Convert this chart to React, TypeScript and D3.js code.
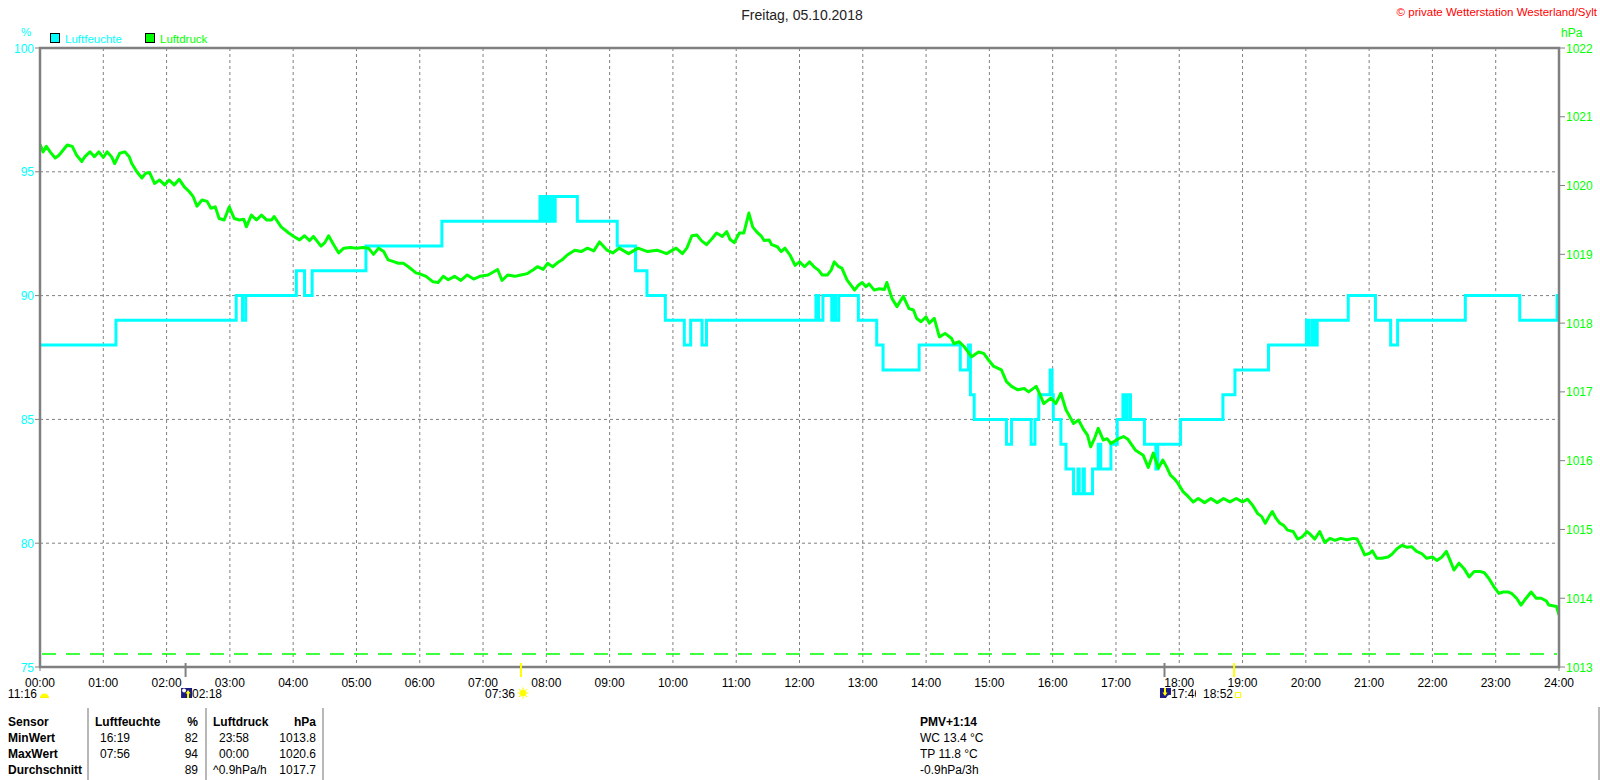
import React from "react";
import * as d3 from "d3";

// ---------- data ----------
const humTimes = [0, 1.2, 3.1, 3.2, 3.25, 4.05, 4.18, 4.3, 5.15, 6.35, 7.9, 7.94, 7.98, 8.02, 8.06, 8.1, 8.14, 8.49, 9.12, 9.41, 9.59, 9.88, 10.18, 10.28, 10.46, 10.53, 12.26, 12.3, 12.37, 12.51, 12.55, 12.57, 12.62, 12.93, 13.22, 13.32, 13.89, 14.54, 14.67, 14.7, 14.76, 15.27, 15.35, 15.66, 15.72, 15.78, 15.96, 15.99, 16.01, 16.13, 16.21, 16.33, 16.4, 16.42, 16.48, 16.5, 16.63, 16.72, 16.76, 16.92, 17.02, 17.11, 17.14, 17.18, 17.23, 17.45, 17.63, 17.66, 18.02, 18.69, 18.88, 19.41, 20.01, 20.05, 20.1, 20.14, 20.18, 20.67, 21.1, 21.34, 21.45, 22.52, 23.38, 23.97, 24];
const humValues = [88, 89, 90, 89, 90, 91, 90, 91, 92, 93, 94, 93, 94, 93, 94, 93, 94, 93, 92, 91, 90, 89, 88, 89, 88, 89, 90, 89, 90, 89, 90, 89, 90, 89, 88, 87, 88, 87, 88, 86, 85, 84, 85, 84, 85, 86, 87, 86, 85, 84, 83, 82, 83, 82, 83, 82, 83, 84, 83, 84, 85, 86, 85, 86, 85, 84, 83, 84, 85, 86, 87, 88, 89, 88, 89, 88, 89, 90, 89, 88, 89, 90, 89, 90, 90];

const pressure: [number, number][] = [
  [0.00,1020.60],[0.05,1020.49],[0.10,1020.57],[0.16,1020.49],[0.24,1020.40],[0.30,1020.44],[0.43,1020.59],[0.51,1020.57],[0.58,1020.44],[0.66,1020.35],[0.71,1020.42],[0.79,1020.49],[0.86,1020.42],[0.93,1020.49],[1.00,1020.41],[1.06,1020.49],[1.13,1020.42],[1.18,1020.32],[1.26,1020.47],[1.34,1020.49],[1.41,1020.42],[1.45,1020.32],[1.53,1020.20],[1.61,1020.11],[1.67,1020.18],[1.73,1020.19],[1.81,1020.03],[1.89,1020.08],[1.97,1020.01],[2.04,1020.08],[2.12,1020.01],[2.20,1020.09],[2.28,1019.98],[2.36,1019.91],[2.42,1019.84],[2.48,1019.70],[2.56,1019.79],[2.64,1019.77],[2.70,1019.67],[2.77,1019.69],[2.83,1019.52],[2.91,1019.50],[2.99,1019.69],[3.07,1019.52],[3.15,1019.50],[3.22,1019.51],[3.26,1019.40],[3.34,1019.57],[3.42,1019.50],[3.50,1019.57],[3.58,1019.50],[3.66,1019.50],[3.70,1019.55],[3.81,1019.40],[3.93,1019.31],[4.01,1019.26],[4.10,1019.21],[4.18,1019.27],[4.26,1019.20],[4.32,1019.26],[4.44,1019.12],[4.50,1019.17],[4.56,1019.27],[4.64,1019.14],[4.72,1019.02],[4.80,1019.09],[4.90,1019.10],[5.00,1019.09],[5.10,1019.10],[5.19,1019.09],[5.27,1019.00],[5.35,1019.09],[5.43,1019.04],[5.50,1018.92],[5.60,1018.89],[5.66,1018.87],[5.74,1018.87],[5.82,1018.82],[5.94,1018.73],[6.02,1018.71],[6.10,1018.68],[6.21,1018.60],[6.29,1018.59],[6.37,1018.68],[6.45,1018.63],[6.55,1018.68],[6.65,1018.62],[6.75,1018.70],[6.85,1018.64],[6.95,1018.68],[7.08,1018.70],[7.23,1018.78],[7.30,1018.62],[7.39,1018.70],[7.50,1018.68],[7.60,1018.70],[7.70,1018.72],[7.80,1018.78],[7.86,1018.82],[7.95,1018.78],[8.02,1018.87],[8.10,1018.82],[8.18,1018.88],[8.25,1018.92],[8.33,1018.99],[8.45,1019.06],[8.55,1019.04],[8.65,1019.09],[8.75,1019.05],[8.84,1019.18],[8.96,1019.06],[9.05,1019.02],[9.15,1019.09],[9.30,1019.01],[9.45,1019.09],[9.60,1019.04],[9.75,1019.06],[9.90,1019.01],[10.05,1019.09],[10.15,1019.01],[10.22,1019.09],[10.30,1019.27],[10.38,1019.28],[10.45,1019.20],[10.53,1019.14],[10.62,1019.23],[10.69,1019.31],[10.78,1019.26],[10.85,1019.33],[10.90,1019.22],[10.97,1019.17],[11.05,1019.31],[11.12,1019.31],[11.20,1019.60],[11.26,1019.40],[11.32,1019.33],[11.40,1019.26],[11.44,1019.20],[11.52,1019.21],[11.56,1019.14],[11.65,1019.11],[11.71,1019.04],
  [11.77,1019.09],[11.85,1018.99],[11.93,1018.84],[12.00,1018.89],[12.08,1018.82],[12.16,1018.89],[12.24,1018.81],[12.30,1018.77],[12.36,1018.70],[12.44,1018.70],[12.50,1018.77],[12.55,1018.89],[12.62,1018.82],[12.67,1018.80],[12.75,1018.63],[12.83,1018.53],[12.87,1018.48],[12.93,1018.55],[12.99,1018.59],[13.05,1018.53],[13.10,1018.57],[13.18,1018.48],[13.26,1018.50],[13.34,1018.49],[13.38,1018.59],[13.46,1018.36],[13.54,1018.24],[13.64,1018.39],[13.73,1018.21],[13.80,1018.19],[13.85,1018.07],[13.92,1018.02],[14.00,1018.09],[14.05,1018.00],[14.13,1018.07],[14.21,1017.80],[14.30,1017.85],[14.40,1017.78],[14.44,1017.70],[14.52,1017.73],[14.60,1017.66],[14.72,1017.51],[14.83,1017.58],[14.91,1017.56],[14.99,1017.46],[15.07,1017.37],[15.19,1017.32],[15.27,1017.15],[15.35,1017.08],[15.45,1017.03],[15.55,1017.05],[15.62,1017.00],[15.74,1017.08],[15.78,1017.00],[15.86,1016.83],[15.97,1016.91],[16.05,1016.83],[16.13,1016.98],[16.21,1016.74],[16.33,1016.54],[16.41,1016.59],[16.49,1016.45],[16.55,1016.37],[16.60,1016.20],[16.66,1016.32],[16.72,1016.47],[16.80,1016.30],[16.86,1016.32],[16.92,1016.25],[17.04,1016.32],[17.12,1016.35],[17.19,1016.31],[17.25,1016.23],[17.31,1016.15],[17.43,1016.08],[17.51,1015.90],[17.59,1016.11],[17.67,1015.89],[17.74,1016.01],[17.80,1015.91],[17.86,1015.79],[17.92,1015.74],[17.98,1015.67],[18.06,1015.55],[18.14,1015.48],[18.22,1015.40],[18.30,1015.45],[18.40,1015.39],[18.50,1015.45],[18.60,1015.39],[18.70,1015.45],[18.80,1015.40],[18.90,1015.45],[19.00,1015.40],[19.08,1015.44],[19.16,1015.35],[19.24,1015.23],[19.30,1015.19],[19.36,1015.09],[19.42,1015.19],[19.47,1015.26],[19.53,1015.16],[19.59,1015.09],[19.65,1015.06],[19.71,1014.99],[19.80,1014.97],[19.87,1014.86],[19.94,1014.89],[20.02,1014.97],[20.08,1014.92],[20.14,1014.86],[20.22,1014.97],[20.30,1014.81],[20.38,1014.87],[20.46,1014.84],[20.55,1014.87],[20.65,1014.85],[20.75,1014.87],[20.81,1014.86],[20.87,1014.75],[20.93,1014.63],[21.00,1014.65],[21.05,1014.69],[21.12,1014.58],[21.20,1014.58],[21.30,1014.60],[21.36,1014.64],[21.44,1014.72],[21.52,1014.77],[21.60,1014.74],[21.67,1014.75],[21.75,1014.68],[21.83,1014.65],[21.91,1014.58],[22.00,1014.60],[22.07,1014.55],[22.15,1014.60],[22.22,1014.68],[22.28,1014.55],[22.34,1014.41],[22.42,1014.51],[22.50,1014.43],[22.58,1014.31],[22.66,1014.39],[22.75,1014.39],[22.82,1014.37],[22.89,1014.29],[22.97,1014.17],[23.05,1014.07],[23.12,1014.09],[23.20,1014.09],[23.25,1014.07],[23.33,1014.00],[23.40,1013.90],[23.48,1014.00],[23.56,1014.09],[23.64,1014.00],[23.72,1014.00],[23.80,1013.96],[23.84,1013.90],[23.90,1013.89],[23.96,1013.88],[24.00,1013.76]
];

const humTicks = [75, 80, 85, 90, 95, 100];
const humGrid = [80, 85, 90, 95];
const pressTicks = [1013, 1014, 1015, 1016, 1017, 1018, 1019, 1020, 1021, 1022];
const hourTicks = d3.range(0, 25);
const pressThreshold = 1013.19;

const title = "Freitag, 05.10.2018";
const copyright = "© private Wetterstation Westerland/Sylt";
const seriesNames = ["Luftfeuchte", "Luftdruck"];
const seriesColors = ["#00ffff", "#00ff00"];

// events: moonrise, sunrise, moonset, sunset (hours)
const moonrise = 2 + 18 / 60;
const sunrise = 7 + 36 / 60;
const moonset = 17 + 46 / 60;
const sunset = 18 + 52 / 60;

const tableHeader = ["Sensor", "Luftfeuchte", "%", "Luftdruck", "hPa"];
const tableRowNames = ["MinWert", "MaxWert", "Durchschnitt"];
const humTimesCol = ["16:19", "07:56", ""];
const humValCol = ["82", "94", "89"];
const pressTimesCol = ["23:58", "00:00", "^0.9hPa/h"];
const pressValCol = ["1013.8", "1020.6", "1017.7"];
const pmvLines = ["PMV+1:14", "WC 13.4 °C", "TP 11.8 °C", "-0.9hPa/3h"];

// ---------- layout ----------
const W = 1600, H = 780;
const L = 40, R = 1559, T = 48, B = 667;
const FONT = "'Liberation Sans', Arial, sans-serif";

export default function App() {
  const x = d3.scaleLinear().domain([0, 24]).range([L, R]);
  const yH = d3.scaleLinear().domain([75, 100]).range([B, T]);
  const yP = d3.scaleLinear().domain([1013, 1022]).range([B, T]);

  const humLine = d3
    .line<number>()
    .x((_, i) => x(humTimes[i]))
    .y((d) => yH(d))
    .curve(d3.curveStepAfter)(humValues) as string;

  const pLine = d3
    .line<[number, number]>()
    .x((d) => x(d[0]))
    .y((d) => yP(d[1]))(pressure) as string;

  const fmt = (h: number) => (h < 10 ? "0" + h : "" + h) + ":00";
  const rowY = [726, 742, 758, 774];

  return (
    <svg
      width={W}
      height={H}
      style={{ position: "absolute", left: 0, top: 0, background: "#fff" }}
      fontFamily={FONT}
    >
      <defs>
        <clipPath id="clip1746">
          <rect x={1100} y={680} width={96} height={30} />
        </clipPath>
        <clipPath id="plotClip">
          <rect x={L} y={T - 2} width={R - L} height={B - T + 2} />
        </clipPath>
      </defs>
      <rect x={0} y={0} width={W} height={H} fill="#fff" />

      {/* title */}
      <text x={802} y={20} fontSize={14} textAnchor="middle" fill="#222">{title}</text>
      <text x={1597} y={16} fontSize={11.5} textAnchor="end" fill="#ff0000">{copyright}</text>

      {/* legend */}
      {seriesNames.map((n, i) => (
        <g key={n} transform={`translate(${i === 0 ? 50 : 145},33)`}>
          <rect x={0.5} y={0.5} width={9} height={9} fill={seriesColors[i]} stroke="#000" />
          <text x={15} y={9.5} fontSize={11.5} fill={seriesColors[i]}>{n}</text>
        </g>
      ))}

      {/* units */}
      <text x={26} y={36} fontSize={11.5} textAnchor="middle" fill="#00ffff">%</text>
      <text x={1561} y={37} fontSize={12} fill="#00ff00">hPa</text>

      {/* grid */}
      {hourTicks.slice(1, 24).map((h) => (
        <line key={"v" + h} x1={x(h)} x2={x(h)} y1={T} y2={B} stroke="#808080" strokeDasharray="3,3" strokeWidth={1} />
      ))}
      {humGrid.map((v) => (
        <line key={"h" + v} x1={L} x2={R} y1={yH(v)} y2={yH(v)} stroke="#808080" strokeDasharray="3,3" strokeWidth={1} />
      ))}

      {/* threshold dashed line */}
      <line x1={L + 2} x2={R - 2} y1={yP(pressThreshold)} y2={yP(pressThreshold)} stroke="#00ff00" strokeWidth={1.5} strokeDasharray="14,10" />

      {/* series */}
      <g clipPath="url(#plotClip)">
        <path d={humLine} fill="none" stroke="#00ffff" strokeWidth={3} strokeLinejoin="miter" />
        <path d={pLine} fill="none" stroke="#00ff00" strokeWidth={3} strokeLinejoin="round" />
      </g>

      {/* frame */}
      <rect x={L} y={T} width={R - L} height={B - T} fill="none" stroke="#808080" strokeWidth={2.5} />

      {/* left axis labels */}
      {humTicks.map((v) => (
        <g key={"lt" + v}>
          <line x1={L - 5} x2={L} y1={yH(v)} y2={yH(v)} stroke="#808080" strokeWidth={1} />
          <text x={L - 6} y={yH(v) + 4.5} fontSize={12} textAnchor="end" fill="#00ffff">{v}</text>
        </g>
      ))}
      {/* right axis labels */}
      {pressTicks.map((v) => (
        <g key={"rt" + v}>
          <line x1={R} x2={R + 6} y1={yP(v)} y2={yP(v)} stroke="#808080" strokeWidth={1} />
          <text x={R + 7} y={yP(v) + 4.5} fontSize={12} fill="#00ff00">{v}</text>
        </g>
      ))}

      {/* bottom ticks & labels */}
      <line x1={x(0)} x2={x(0)} y1={B} y2={B + 4} stroke="#808080" strokeWidth={1} />
      <line x1={x(24)} x2={x(24)} y1={B} y2={B + 4} stroke="#808080" strokeWidth={1} />
      {hourTicks.map((h) => (
        <text key={"xl" + h} x={x(h)} y={687} fontSize={12} textAnchor="middle" fill="#000">{fmt(h)}</text>
      ))}

      {/* event ticks */}
      <line x1={x(moonrise)} x2={x(moonrise)} y1={663} y2={677} stroke="#808080" strokeWidth={2} />
      <line x1={x(sunrise)} x2={x(sunrise)} y1={663} y2={677} stroke="#ffff00" strokeWidth={2} />
      <line x1={x(moonset)} x2={x(moonset)} y1={663} y2={677} stroke="#808080" strokeWidth={2} />
      <line x1={x(sunset)} x2={x(sunset)} y1={663} y2={677} stroke="#ffff00" strokeWidth={2} />

      {/* day length with small sun */}
      <text x={37} y={698} fontSize={12} textAnchor="end" fill="#000">11:16</text>
      <path d="M40,698 A4.5,4.5 0 0 1 49,698 Z" fill="#ffff00" />
      <line x1={40} x2={49} y1={697.5} y2={697.5} stroke="#ffee00" strokeWidth={1} />

      {/* moonrise icon */}
      <g transform={`translate(${x(moonrise) - 4.5},688)`}>
        <rect x={0} y={0} width={11} height={10} fill="#1c1c80" />
        <circle cx={3} cy={2.5} r={2} fill="#fff" />
        <path d="M7,2 L9.5,5.5 L8,5.5 L8,10 L6,10 L6,5.5 L4.5,5.5 Z" fill="#ffff00" />
      </g>
      <text x={192} y={698} fontSize={12} fill="#000">02:18</text>

      {/* sunrise */}
      <text x={515} y={698} fontSize={12} textAnchor="end" fill="#000">07:36</text>
      <g transform="translate(523,693)">
        <circle r={3.5} fill="#ffff00" />
        {d3.range(8).map((k) => {
          const a = (k * Math.PI) / 4;
          return <line key={k} x1={Math.cos(a) * 4} y1={Math.sin(a) * 4} x2={Math.cos(a) * 5.5} y2={Math.sin(a) * 5.5} stroke="#ffff00" strokeWidth={1.2} />;
        })}
      </g>

      {/* moonset icon */}
      <g transform={`translate(${x(moonset) - 4.5},688)`}>
        <rect x={0} y={0} width={11} height={10} fill="#1c1c80" />
        <path d="M4,0 L6,0 L6,4.5 L7.5,4.5 L5,8 L2.5,4.5 L4,4.5 Z" fill="#ffff00" />
        <path d="M6,10 Q8,6 11,7 L11,10 Z" fill="#fff" />
      </g>
      <g clipPath="url(#clip1746)">
        <text x={1171} y={698} fontSize={12} fill="#000">17:46</text>
      </g>
      <text x={1203} y={698} fontSize={12} fill="#000">18:52</text>
      <rect x={1235.5} y={692.5} width={5} height={5} fill="none" stroke="#ffff00" strokeWidth={1} />

      {/* table */}
      {[88, 206, 323].map((xx) => (
        <line key={"sep" + xx} x1={xx} x2={xx} y1={708} y2={780} stroke="#a0a0a0" strokeWidth={1.5} />
      ))}
      <line x1={1599} x2={1599} y1={707} y2={780} stroke="#a0a0a0" strokeWidth={1.5} />
      <g fontSize={12} fill="#000">
        <text x={8} y={rowY[0]} fontWeight="bold">{tableHeader[0]}</text>
        <text x={95} y={rowY[0]} fontWeight="bold">{tableHeader[1]}</text>
        <text x={198} y={rowY[0]} fontWeight="bold" textAnchor="end">{tableHeader[2]}</text>
        <text x={213} y={rowY[0]} fontWeight="bold">{tableHeader[3]}</text>
        <text x={316} y={rowY[0]} fontWeight="bold" textAnchor="end">{tableHeader[4]}</text>
        {tableRowNames.map((n, i) => (
          <g key={n}>
            <text x={8} y={rowY[i + 1]} fontWeight="bold">{n}</text>
            <text x={100} y={rowY[i + 1]}>{humTimesCol[i]}</text>
            <text x={198} y={rowY[i + 1]} textAnchor="end">{humValCol[i]}</text>
            <text x={i === 2 ? 213 : 219} y={rowY[i + 1]}>{pressTimesCol[i]}</text>
            <text x={316} y={rowY[i + 1]} textAnchor="end">{pressValCol[i]}</text>
          </g>
        ))}
        {pmvLines.map((t, i) => (
          <text key={t} x={920} y={rowY[i]} fontWeight={i === 0 ? "bold" : "normal"}>{t}</text>
        ))}
      </g>
    </svg>
  );
}
